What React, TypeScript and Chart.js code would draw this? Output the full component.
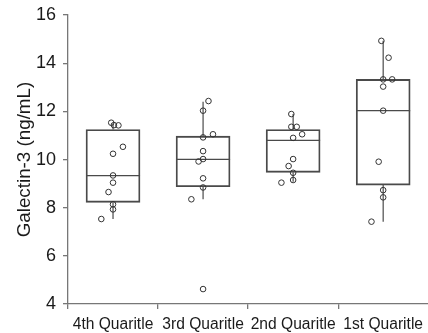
import { useEffect, useRef } from 'react';
import { Chart, registerables } from 'chart.js';

Chart.register(...registerables);

const categories = ['4th Quaritle', '3rd Quaritle', '2nd Quaritle', '1st Quaritle'];
const yMin = 4;
const yMax = 16;
const yStep = 2;
const yTitle = 'Galectin-3 (ng/mL)';

// box statistics, one entry per category
const whiskerLow = [7.53, 8.35, 9.08, 7.42];
const q1 = [8.22, 8.87, 9.47, 8.94];
const median = [9.33, 10.01, 10.8, 12.03];
const q3 = [11.25, 10.97, 11.25, 13.33];
const whiskerHigh = [11.5, 12.4, 11.89, 14.93];

// individual observations and their horizontal jitter (category units)
const values4th = [11.53, 11.43, 11.42, 10.53, 10.24, 9.34, 9.04, 8.65, 8.14, 7.93, 7.53];
const jitter4th = [-0.02, 0.01, 0.06, 0.11, 0, 0, 0, -0.05, 0, 0, -0.13];
const values3rd = [12.43, 12.03, 11.05, 10.92, 10.35, 10.02, 9.92, 9.22, 8.84, 8.35, 4.62];
const jitter3rd = [0.06, 0, 0.11, 0, 0, 0, -0.05, 0, 0, -0.13, 0];
const values2nd = [11.89, 11.36, 11.36, 11.05, 10.9, 10.02, 9.73, 9.45, 9.15, 9.04];
const jitter2nd = [-0.02, -0.02, 0.04, 0.1, 0, 0, -0.05, 0, 0, -0.13];
const values1st = [14.93, 14.23, 13.33, 13.33, 13.03, 12.03, 9.91, 8.73, 8.43, 7.42];
const jitter1st = [-0.02, 0.06, 0, 0.1, 0, 0, -0.05, 0, 0, -0.13];

const groupValues = [values4th, values3rd, values2nd, values1st];
const groupJitter = [jitter4th, jitter3rd, jitter2nd, jitter1st];

const BOX_HALF = 0.3;
const LINE = '#4a4a4a';
const AXIS = '#777777';
const FONT = "'Liberation Sans', Arial, Helvetica, sans-serif";

export default function App() {
  const ref = useRef<HTMLCanvasElement | null>(null);

  useEffect(() => {
    document.body.style.margin = '0';
    const canvas = ref.current;
    if (!canvas) return;

    const boxData = categories.map((_, i) => ({ x: i, y: [q1[i], q3[i]] }));
    const medianData: any[] = [];
    const whiskerData: any[] = [];
    categories.forEach((_, i) => {
      medianData.push({ x: i - BOX_HALF, y: median[i] }, { x: i + BOX_HALF, y: median[i] }, { x: i, y: null });
      whiskerData.push(
        { x: i, y: whiskerLow[i] }, { x: i, y: q1[i] }, { x: i, y: null },
        { x: i, y: q3[i] }, { x: i, y: whiskerHigh[i] }, { x: i, y: null }
      );
    });
    const pointData: any[] = [];
    groupValues.forEach((vals, i) => {
      vals.forEach((v, j) => pointData.push({ x: i + groupJitter[i][j], y: v }));
    });

    const noPoint = { pointRadius: 0, pointHoverRadius: 0, pointBorderWidth: 0, pointHoverBorderWidth: 0 };

    const chart = new Chart(canvas, {
      type: 'bar',
      data: {
        labels: categories,
        datasets: [
          {
            type: 'line',
            data: pointData,
            xAxisID: 'xv',
            yAxisID: 'y',
            showLine: false,
            pointRadius: 2.8,
            pointHoverRadius: 2.8,
            pointStyle: 'circle',
            pointBackgroundColor: 'rgba(255,255,255,0)',
            pointBorderColor: '#333',
            pointBorderWidth: 1,
            pointHoverBorderWidth: 1,
            borderWidth: 0,
            order: 0,
          } as any,
          {
            type: 'line',
            data: medianData,
            xAxisID: 'xv',
            yAxisID: 'y',
            borderColor: LINE,
            borderWidth: 1.2,
            ...noPoint,
            spanGaps: false,
            order: 1,
          } as any,
          {
            type: 'line',
            data: whiskerData,
            xAxisID: 'xv',
            yAxisID: 'y',
            borderColor: LINE,
            borderWidth: 1.2,
            ...noPoint,
            spanGaps: false,
            order: 2,
          } as any,
          {
            type: 'bar',
            data: boxData,
            xAxisID: 'xv',
            yAxisID: 'y',
            barThickness: 54,
            backgroundColor: 'rgba(255,255,255,0)',
            borderColor: LINE,
            borderWidth: 1.2,
            borderSkipped: false,
            order: 3,
          } as any,
        ],
      },
      options: {
        responsive: false,
        animation: false,
        layout: { padding: { left: 0, right: 0, top: 15, bottom: 0 } },
        plugins: { legend: { display: false }, tooltip: { enabled: false } },
        font: { family: FONT },
        scales: {
          x: {
            type: 'category',
            labels: categories,
            offset: true,
            position: 'bottom',
            afterFit: (s: any) => { s.height = 29; },
            grid: {
              offset: true,
              drawOnChartArea: false,
              drawTicks: true,
              tickLength: 5,
              color: AXIS,
              lineWidth: 1.3,
            },
            border: { display: true, color: AXIS, width: 1.3 },
            ticks: {
              color: '#1a1a1a',
              font: { family: FONT, size: 15.6, lineHeight: 1.68 },
              padding: 3,
              maxRotation: 0,
              autoSkip: false,
            },
          },
          xv: {
            type: 'linear',
            display: false,
            offset: false,
            min: -0.5,
            max: 3.5,
            grid: { offset: false },
          },
          y: {
            type: 'linear',
            min: yMin,
            max: yMax,
            afterFit: (s: any) => { s.width = 68; },
            grid: {
              drawOnChartArea: false,
              drawTicks: true,
              tickLength: 5,
              color: AXIS,
              lineWidth: 1.3,
            },
            border: { display: true, color: AXIS, width: 1.3 },
            ticks: {
              stepSize: yStep,
              color: '#1a1a1a',
              font: { family: FONT, size: 18, lineHeight: 0.9 },
              padding: 7,
            },
            title: {
              display: true,
              text: yTitle,
              color: '#1a1a1a',
              font: { family: FONT, size: 18.8 },
              padding: { top: 13.5, bottom: 0 },
            },
          },
        },
      } as any,
    });

    return () => chart.destroy();
  }, []);

  return (
    <div style={{ width: 428, height: 333, overflow: 'hidden' }}>
      <canvas ref={ref} width={432} height={333} style={{ display: 'block' }} />
    </div>
  );
}
